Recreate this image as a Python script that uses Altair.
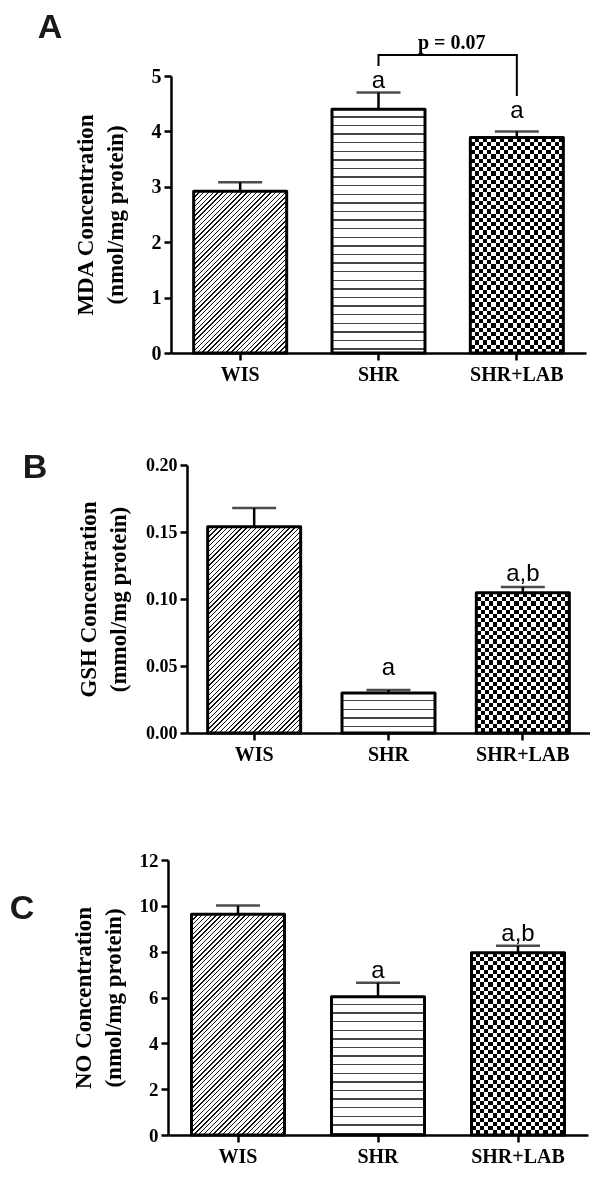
import altair as alt
import pandas as pd

# ---------------- data ----------------
groups = ["WIS", "SHR", "SHR+LAB"]

mda_mean = [2.92, 4.40, 3.89]
mda_err = [0.16, 0.30, 0.11]
mda_sig = ["", "a", "a"]
mda_sig_y = [0.0, 4.78, 4.24]

gsh_mean = [0.154, 0.0298, 0.1046]
gsh_err = [0.014, 0.0022, 0.0044]
gsh_sig = ["", "a", "a,b"]
gsh_sig_y = [0.0, 0.0433, 0.1138]

no_mean = [9.63, 6.03, 7.95]
no_err = [0.38, 0.61, 0.31]
no_sig = ["", "a", "a,b"]
no_sig_y = [0.0, 6.83, 8.48]

bracket_groups = ["SHR", "SHR", "SHR+LAB", "SHR+LAB"]
bracket_y = [5.18, 5.38, 5.38, 4.64]
p_label = "p = 0.07"
p_label_y = 5.49

mda_title = ["MDA Concentration", "(nmol/mg protein)"]
gsh_title = ["GSH Concentration", "(mmol/mg protein)"]
no_title = ["NO Concentration", "(nmol/mg protein)"]

mda_ticks = [0, 1, 2, 3, 4, 5]
gsh_ticks = [0, 0.05, 0.10, 0.15, 0.20]
no_ticks = [0, 2, 4, 6, 8, 10, 12]

# ---------------- styling ----------------
SERIF = "Liberation Serif"
SANS = "Liberation Sans"
BAR_W = 93


def stripes(total, period, thick, on, off, start=0.0):
    stops = [{"offset": 0.0, "color": off}]
    pos = start
    while pos < total:
        a = round(pos / total, 5)
        b = round(min(pos + thick, total) / total, 5)
        stops += [{"offset": a, "color": off}, {"offset": a, "color": on},
                  {"offset": b, "color": on}, {"offset": b, "color": off}]
        pos += period
    stops.append({"offset": 1.0, "color": off})
    return stops


def diag_fill(w, h):
    r = w / h
    b = (r + 1) / (r * r + 1)
    a = r * b
    return {"gradient": "linear", "x1": 0, "y1": 0, "x2": round(a, 5), "y2": round(b, 5),
            "stops": stripes(w + h, 4.8, 1.4, "#111111", "#ffffff", start=1.0)}


def hline_fill(h):
    return {"gradient": "linear", "x1": 0, "y1": 0, "x2": 0, "y2": 1,
            "stops": stripes(h, 8.6, 1.3, "#444444", "#ffffff", start=7.0)}


SQ = BAR_W / 22.0


def checker_base(w):
    return {"gradient": "linear", "x1": 0, "y1": 0, "x2": 1, "y2": 0,
            "stops": stripes(w, 2 * SQ, SQ, "#000000", "#ffffff")}


def checker_over(h):
    return {"gradient": "linear", "x1": 0, "y1": 0, "x2": 0, "y2": 1,
            "stops": stripes(h, 2 * SQ, SQ, "#ffffff", "rgba(255,255,255,0)")}


def panel(key, means, errs, sig, sig_y, title, ticks, fmt, cfg, extra=None):
    W, H, dmax = cfg["W"], cfg["H"], cfg["dmax"]
    df = pd.DataFrame({"group": groups, "mean": means,
                       "top": [m + e for m, e in zip(means, errs)],
                       "sig": sig, "sig_y": sig_y})
    xs = alt.Scale(domain=groups, paddingInner=0, paddingOuter=0)
    ys = alt.Scale(domain=[0, dmax], nice=False, zero=True)
    xaxis = alt.Axis(
        title=None, labelAngle=0, labelFont=SERIF, labelFontWeight="bold",
        labelFontSize=20, labelColor="black", labelPadding=4, tickSize=7,
        tickWidth=2.5, tickColor="black", domainWidth=2.5, domainColor="black",
        grid=False)
    yaxis = alt.Axis(
        values=ticks, format=fmt, title=title, titleFont=SERIF,
        titleFontWeight="bold", titleFontSize=23, titleLineHeight=30,
        titleColor="black", titleX=cfg["tx"], titleY=H / 2, titleBaseline="bottom",
        titleAlign="center", labelFont=SERIF, labelFontWeight="bold",
        labelFontSize=cfg["lfs"], labelColor="black", labelPadding=3, tickSize=7,
        tickWidth=2.5, tickColor="black", domainWidth=2.5, domainColor="black",
        grid=False, labelOverlap=False)

    def xn(**kw):
        return alt.X("group:N", scale=xs, axis=xaxis, **kw)

    def yq(f):
        return alt.Y(f"{f}:Q", scale=ys, axis=yaxis)

    base = alt.Chart(df)
    layers = []
    # layout anchor (thin white strip fixing the cell's extent)
    layers.append(alt.Chart(pd.DataFrame({"k": [0]})).mark_rect(color="white").encode(
        x=alt.value(cfg["L"]), x2=alt.value(cfg["L"] + 1),
        y=alt.value(cfg["T"]), y2=alt.value(H + cfg["B"])))
    # error bars
    layers.append(base.mark_rule(color="black", strokeWidth=2.5).encode(
        x=xn(), y=yq("mean"), y2="top:Q"))
    layers.append(base.mark_tick(color="black", size=44, thickness=2.5).encode(
        x=xn(), y=yq("top")))
    # patterned fills
    h0 = means[0] / dmax * H
    h1 = means[1] / dmax * H
    h2 = means[2] / dmax * H
    layers.append(base.transform_filter(alt.datum.group == groups[0]).mark_bar(
        size=BAR_W, fill=diag_fill(BAR_W, h0), strokeWidth=0).encode(x=xn(), y=yq("mean")))
    layers.append(base.transform_filter(alt.datum.group == groups[1]).mark_bar(
        size=BAR_W, fill=hline_fill(h1), strokeWidth=0).encode(x=xn(), y=yq("mean")))
    layers.append(base.transform_filter(alt.datum.group == groups[2]).mark_bar(
        size=BAR_W, fill=checker_base(BAR_W), strokeWidth=0).encode(x=xn(), y=yq("mean")))
    layers.append(base.transform_filter(alt.datum.group == groups[2]).mark_bar(
        size=BAR_W, fill=checker_over(h2), strokeWidth=0, blend="difference").encode(
        x=xn(), y=yq("mean")))
    # outlines
    layers.append(base.mark_bar(size=BAR_W, fillOpacity=0, stroke="black", strokeWidth=3,
                                strokeJoin="round").encode(x=xn(), y=yq("mean")))
    # significance letters
    layers.append(base.transform_filter(alt.datum.sig != "").mark_text(
        font=SANS, fontSize=24, baseline="alphabetic", align="center", color="black").encode(
        x=xn(), y=yq("sig_y"), text="sig:N"))
    if extra is not None:
        layers += extra(xn, yq)
    # panel letter
    layers.append(alt.Chart(pd.DataFrame({"t": [key]})).mark_text(
        font=SANS, fontSize=34, fontWeight="bold", baseline="alphabetic", align="center",
        color="#1a1a1a").encode(x=alt.value(cfg["lx"]), y=alt.value(cfg["ly"]), text="t:N"))
    return alt.layer(*layers).properties(width=W, height=H)


def bracket_layers(xn, yq):
    bdf = pd.DataFrame({"group": bracket_groups, "y": bracket_y,
                        "i": list(range(len(bracket_y)))})
    line = alt.Chart(bdf).mark_line(color="black", strokeWidth=2).encode(
        x=xn(), y=yq("y"), order="i:Q")
    pdf = pd.DataFrame({"group": ["SHR+LAB"], "y": [p_label_y], "t": [p_label]})
    txt = alt.Chart(pdf).mark_text(font=SERIF, fontWeight="bold", fontSize=20,
                                   baseline="alphabetic", align="center", dx=4,
                                   color="black").encode(
        x=xn(bandPosition=0), y=yq("y"), text="t:N")
    return [line, txt]


def spacer(w):
    return alt.Chart(pd.DataFrame({"k": [0]})).mark_rect(color="white").encode(
        x=alt.value(0), x2=alt.value(w), y=alt.value(0), y2=alt.value(1)
    ).properties(width=w, height=1)


cfgA = dict(W=415, H=277, dmax=5, lfs=20, tx=-74, lx=-121, ly=-38, L=-162, T=-68, B=47)
cfgB = dict(W=403, H=268, dmax=0.2, lfs=18, tx=-87, lx=-152, ly=13, L=-178, T=-65, B=62)
cfgC = dict(W=420, H=275, dmax=12, lfs=19, tx=-73, lx=-146, ly=59, L=-159, T=-65, B=44)

pA = panel("A", mda_mean, mda_err, mda_sig, mda_sig_y, mda_title, mda_ticks, "d", cfgA,
           extra=bracket_layers)
pB = panel("B", gsh_mean, gsh_err, gsh_sig, gsh_sig_y, gsh_title, gsh_ticks, ".2f", cfgB)
pC = panel("C", no_mean, no_err, no_sig, no_sig_y, no_title, no_ticks, "d", cfgC)

rowA = alt.hconcat(spacer(1), pA, spacing=0, bounds="full")
rowB = alt.hconcat(spacer(1), pB, spacing=0, bounds="full")
rowC = alt.hconcat(spacer(1), pC, spacing=0, bounds="full")

chart = alt.vconcat(rowA, rowB, rowC, spacing=0, bounds="full").properties(
    padding=0).configure_view(strokeWidth=0).configure_axis(grid=False)

chart.save("out.html", embed_options={"renderer": "svg", "actions": False})
